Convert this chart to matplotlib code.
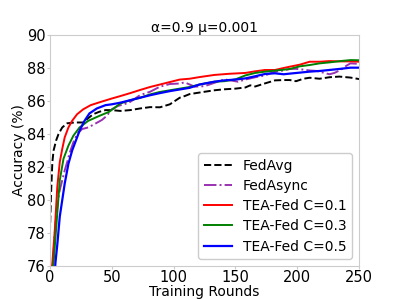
import matplotlib
matplotlib.use("Agg")
import matplotlib.pyplot as plt

title = "α=0.9 μ=0.001"
xlabel = "Training Rounds"
ylabel = "Accuracy (%)"
xticks = [0, 50, 100, 150, 200, 250]
yticks = [76, 78, 80, 82, 84, 86, 88, 90]

fedavg_x = [0, 1, 2, 3, 5, 7, 10, 14, 20, 27, 30, 35, 40, 45, 50, 57, 65, 73, 81, 89, 97, 105, 109, 113,
            125, 133, 141, 150, 158, 162, 166, 174, 182, 189, 194, 199, 205, 210, 218, 226, 234, 243, 250]
fedavg_y = [78.0, 80.5, 82.3, 83.0, 83.6, 84.0, 84.4, 84.65, 84.7, 84.7, 84.9, 85.2, 85.35, 85.45, 85.45,
            85.4, 85.45, 85.55, 85.63, 85.62, 85.8, 86.2, 86.3, 86.42, 86.56, 86.65, 86.71, 86.75, 86.82,
            86.95, 86.88, 87.07, 87.25, 87.27, 87.27, 87.2, 87.35, 87.41, 87.35, 87.44, 87.48, 87.42, 87.33]

fedasync_x = [2, 3.5, 5, 7, 8, 10, 12, 14, 16, 19, 22, 26, 31, 36, 42, 46, 50, 55, 60, 65, 73, 81, 89,
              97, 105, 109, 113, 117, 125, 133, 141, 146, 152, 158, 166, 174, 182, 189, 194, 199, 205,
              210, 216, 222, 226, 230, 235, 240, 243, 250]
fedasync_y = [75.5, 77.5, 79.0, 80.2, 80.6, 81.2, 81.8, 82.3, 82.85, 83.5, 84.0, 84.3, 84.4, 84.6, 84.85,
              85.1, 85.5, 85.7, 85.8, 85.95, 86.36, 86.56, 86.87, 87.03, 87.06, 87.13, 87.0, 86.87, 86.9,
              87.1, 87.31, 87.25, 87.17, 87.3, 87.44, 87.55, 87.78, 87.85, 87.94, 87.95, 87.9, 87.85,
              87.82, 87.7, 87.62, 87.7, 87.88, 88.15, 88.28, 88.25]

c01_x = [0, 2, 4, 6, 8, 10, 12, 15, 18, 22, 27, 33, 40, 50, 57, 65, 73, 81, 89, 97, 105, 113, 121, 133,
         145, 158, 166, 174, 182, 189, 194, 202, 210, 218, 226, 235, 243, 250]
c01_y = [75.0, 76.2, 78.2, 80.8, 82.3, 83.1, 83.8, 84.4, 84.8, 85.2, 85.5, 85.75, 85.92, 86.15, 86.3,
         86.48, 86.67, 86.85, 87.0, 87.15, 87.3, 87.35, 87.45, 87.58, 87.65, 87.7, 87.8, 87.88, 87.88,
         88.0, 88.08, 88.2, 88.38, 88.38, 88.42, 88.4, 88.4, 88.38]

c03_x = [0, 3, 5, 8, 11, 15, 19, 24, 31, 40, 48, 57, 65, 73, 81, 89, 97, 105, 113, 121, 133, 141, 150,
         158, 166, 174, 182, 194, 202, 210, 218, 226, 235, 243, 250]
c03_y = [74.5, 76.2, 78.2, 81.2, 82.5, 83.3, 83.9, 84.4, 84.8, 85.1, 85.35, 85.85, 86.05, 86.2, 86.4,
         86.55, 86.65, 86.75, 86.85, 87.0, 87.17, 87.2, 87.31, 87.55, 87.7, 87.78, 87.84, 87.94, 88.1,
         88.18, 88.28, 88.34, 88.42, 88.48, 88.47]

c05_x = [3, 4.5, 6, 8, 10, 12, 15, 18, 21, 24, 28, 32, 38, 45, 50, 57, 65, 73, 81, 89, 97, 105, 113,
         121, 133, 141, 150, 158, 166, 174, 182, 189, 194, 202, 210, 218, 226, 235, 243, 250]
c05_y = [74.5, 76.2, 77.3, 79.0, 80.0, 81.0, 82.2, 83.0, 83.6, 84.2, 84.8, 85.25, 85.55, 85.75, 85.8,
         85.9, 86.05, 86.2, 86.35, 86.48, 86.6, 86.7, 86.8, 87.0, 87.17, 87.25, 87.3, 87.37, 87.5, 87.64,
         87.68, 87.62, 87.66, 87.72, 87.78, 87.82, 87.88, 87.95, 88.02, 88.02]

fig = plt.figure(figsize=(3.99, 2.99), dpi=100)
ax = fig.add_subplot(111)
fig.subplots_adjust(left=0.125, right=0.9, top=0.883, bottom=0.11)

ax.plot(fedavg_x, fedavg_y, color="black", linestyle="--", lw=1.4, label="FedAvg")
ax.plot(fedasync_x, fedasync_y, color="#9932b0", linestyle="-.", lw=1.4, label="FedAsync")
ax.plot(c01_x, c01_y, color="red", lw=1.4, label="TEA-Fed C=0.1")
ax.plot(c03_x, c03_y, color="green", lw=1.4, label="TEA-Fed C=0.3")
ax.plot(c05_x, c05_y, color="blue", lw=1.6, label="TEA-Fed C=0.5")

ax.set_xlim(0, 250)
ax.set_ylim(76, 90)
ax.set_xticks(xticks)
ax.set_yticks(yticks)
ax.tick_params(labelsize=10.5, length=2, color="#cccccc", pad=1)
for s in ax.spines.values():
    s.set_color("#cccccc")
ax.set_title(title, fontsize=10, pad=2)
ax.set_xlabel(xlabel, fontsize=10, labelpad=0)
ax.set_ylabel(ylabel, fontsize=10, labelpad=1)
leg = ax.legend(loc="lower right", fontsize=10, frameon=True, fancybox=True, framealpha=1,
                labelspacing=0.45)
leg.get_frame().set_edgecolor("#cccccc")

fig.savefig("out.png", dpi=100)
